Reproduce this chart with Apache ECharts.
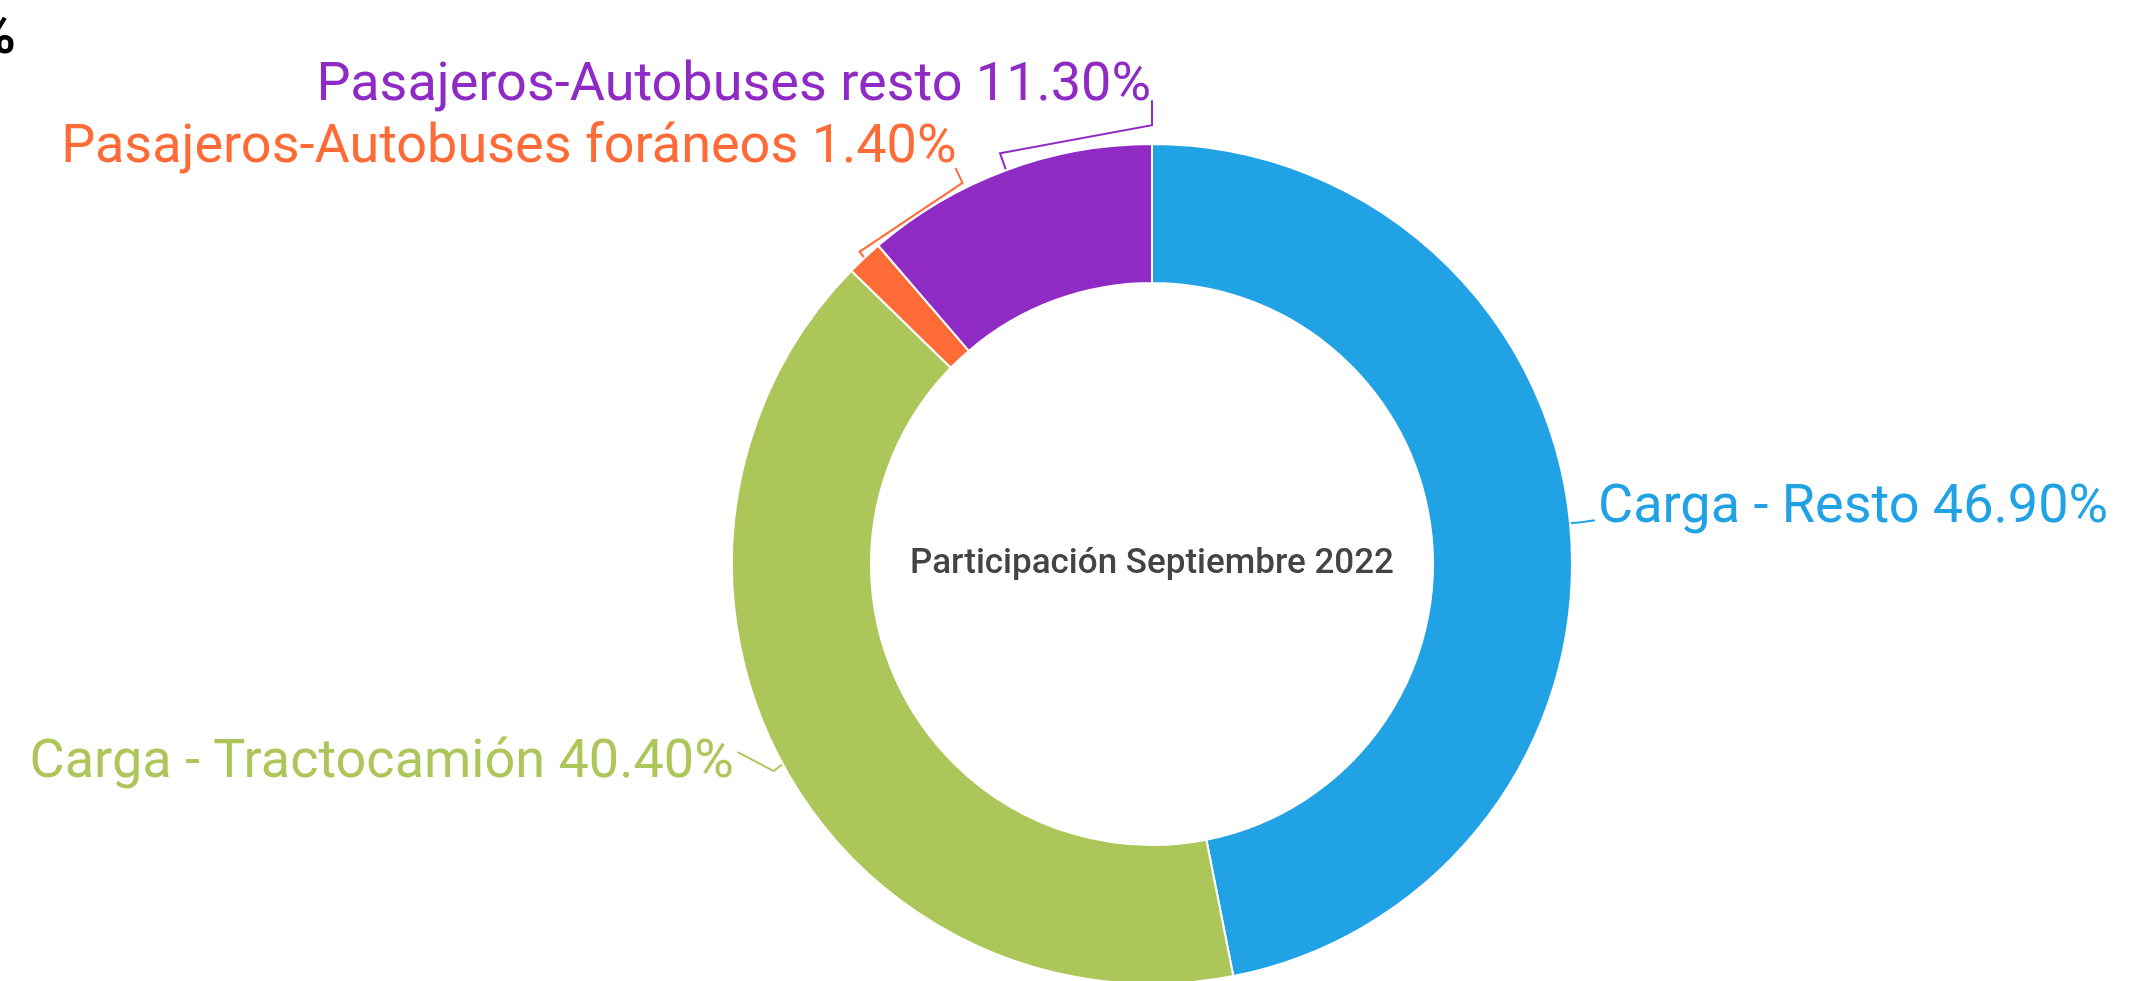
<!DOCTYPE html>
<html>
<head>
    <meta charset="utf-8">
    <style>
        html, body{
            margin: 0;
            padding: 0;
            background: #fff;
        }
        #chart-container{
            width: 2146px;
            height: 981px;
        }
    </style>
</head>
<body>
    <div id="chart-container"></div>

    <script type="text/javascript" src="https://cdn.jsdelivr.net/npm/echarts@6/dist/echarts.min.js"></script>
    <script type="text/javascript">
        // data
        var categories = ['Carga - Resto', 'Carga - Tractocamión', 'Pasajeros-Autobuses foráneos', 'Pasajeros-Autobuses resto'];
        var shares = [46.9, 40.4, 1.4, 11.3];
        var colors = ['#20a2e5', '#adc65a', '#ff6b37', '#8f2bc4'];
        var centerText = 'Participación Septiembre 2022';

        // pie geometry (px)
        var pieCenter = [1152, 564];
        var pieRadius = [281, 420];

        // where each label goes, relative to the point on the outer edge
        var labelPlace = [
            { dx: 28, dy: -15, align: 'left', line: [[11, -1], [25, -3]] },
            { dx: -49, dy: -1, align: 'right', line: [[-9, 7], [-45, -12]] },
            { dx: 92, dy: -109, align: 'right', line: [[-5, -6], [98, -75], [91, -90]] },
            { dx: 145, dy: -84, align: 'right', line: [[-6, -17], [146, -45], [146, -70]] }
        ];

        var chartDom = document.getElementById('chart-container');
        var myChart = echarts.init(chartDom);

        var pieData = categories.map(function (name, i) {
            return {
                name: name,
                value: shares[i],
                itemStyle: { color: colors[i] },
                label: { color: colors[i] },
                labelLine: { lineStyle: { color: colors[i] } }
            };
        });

        var option = {
            animation: false,
            graphic: [
                {
                    type: 'text',
                    x: 16,
                    y: 39,
                    style: {
                        text: '%',
                        fill: '#000',
                        font: 'bold 56px Roboto',
                        textAlign: 'right',
                        textVerticalAlign: 'middle'
                    }
                },
                {
                    type: 'text',
                    x: pieCenter[0],
                    y: pieCenter[1],
                    style: {
                        text: centerText,
                        fill: '#444',
                        font: '500 35px Roboto',
                        textAlign: 'center',
                        textVerticalAlign: 'middle'
                    }
                }
            ],
            series: [
                {
                    type: 'pie',
                    center: pieCenter,
                    radius: pieRadius,
                    startAngle: 90,
                    clockwise: true,
                    avoidLabelOverlap: false,
                    itemStyle: {
                        borderColor: '#fff',
                        borderWidth: 2
                    },
                    label: {
                        show: true,
                        fontFamily: 'Roboto',
                        fontSize: 54,
                        formatter: function (p) {
                            return p.name + ' ' + p.value.toFixed(2) + '%';
                        }
                    },
                    labelLine: {
                        show: true,
                        length: 10,
                        length2: 20,
                        lineStyle: { width: 2 }
                    },
                    labelLayout: function (params) {
                        var pts = params.labelLinePoints;
                        var place = labelPlace[params.dataIndex];
                        if (!pts || !place) return {};
                        var a = pts[0];
                        var line = [[a[0], a[1]]].concat(place.line.map(function (d) {
                            return [a[0] + d[0], a[1] + d[1]];
                        }));
                        return {
                            x: a[0] + place.dx,
                            y: a[1] + place.dy,
                            align: place.align,
                            verticalAlign: 'middle',
                            labelLinePoints: line
                        };
                    },
                    emphasis: { disabled: true },
                    data: pieData
                }
            ]
        };
        myChart.setOption(option);
    </script>
</body>
</html>
